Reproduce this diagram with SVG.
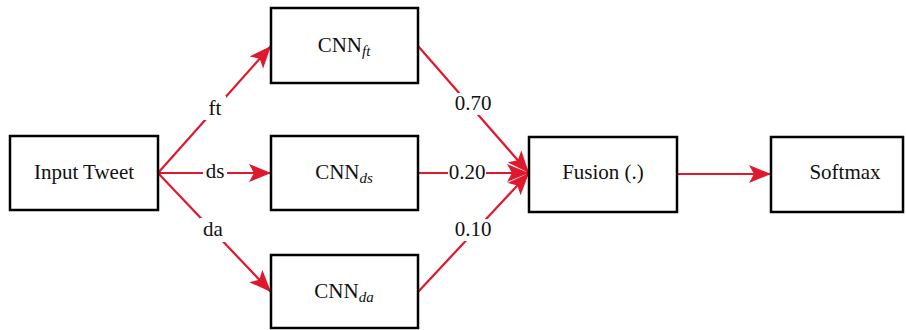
<svg xmlns="http://www.w3.org/2000/svg" width="906" height="330" viewBox="0 0 906 330">
<defs>
<marker id="ah" markerUnits="userSpaceOnUse" markerWidth="24" markerHeight="20" viewBox="0 0 24 20" refX="22" refY="10" orient="auto">
<path d="M0,1 L22,10 L0,19 L5,10 Z" fill="#E0182D"/>
</marker>
</defs>
<style>
.box{fill:#fff;stroke:#000;stroke-width:2.5}
text{font-family:'Liberation Serif','DejaVu Serif',serif;font-size:21px;fill:#111;text-anchor:middle}
.c{stroke:#E0182D;stroke-width:2.2;fill:none;marker-end:url(#ah)}
.lb{fill:#fff}
.s{font-style:italic;font-size:15px}
</style>
<g id="connectors">
<line class="c" x1="158" y1="173" x2="271" y2="46"/>
<line class="c" x1="158" y1="173" x2="271" y2="173"/>
<line class="c" x1="158" y1="173" x2="271" y2="292"/>
<line class="c" x1="418" y1="46" x2="529" y2="173"/>
<line class="c" x1="418" y1="173" x2="529" y2="173"/>
<line class="c" x1="418" y1="292" x2="529" y2="173"/>
<line class="c" x1="677" y1="174" x2="771" y2="174"/>
<rect class="lb" x="204" y="96" width="22" height="24"/>
<text x="215" y="115">ft</text>
<rect class="lb" x="203" y="161" width="24" height="22"/>
<text x="215" y="178">ds</text>
<rect class="lb" x="200" y="218" width="26" height="24"/>
<text x="213" y="236">da</text>
<rect class="lb" x="454" y="93" width="38" height="22"/>
<text x="473" y="110">0.70</text>
<rect class="lb" x="448" y="162" width="38" height="22"/>
<text x="467" y="179">0.20</text>
<rect class="lb" x="454" y="219" width="38" height="22"/>
<text x="473" y="236">0.10</text>
</g>
<g id="input">
<rect class="box" x="10" y="136" width="148" height="74"/>
<text x="84" y="179">Input Tweet</text>
</g>
<g id="cnn_ft">
<rect class="box" x="271" y="8" width="147" height="75"/>
<text x="344" y="52">CNN<tspan class="s" dy="4">ft</tspan></text>
</g>
<g id="cnn_ds">
<rect class="box" x="271" y="136" width="147" height="74"/>
<text x="344" y="179">CNN<tspan class="s" dy="4">ds</tspan></text>
</g>
<g id="cnn_da">
<rect class="box" x="271" y="255" width="147" height="73"/>
<text x="344" y="298">CNN<tspan class="s" dy="4">da</tspan></text>
</g>
<g id="fusion">
<rect class="box" x="529" y="137" width="148" height="75"/>
<text x="603" y="179">Fusion (.)</text>
</g>
<g id="softmax">
<rect class="box" x="771" y="137" width="132" height="75"/>
<text x="845" y="179">Softmax</text>
</g>
</svg>
